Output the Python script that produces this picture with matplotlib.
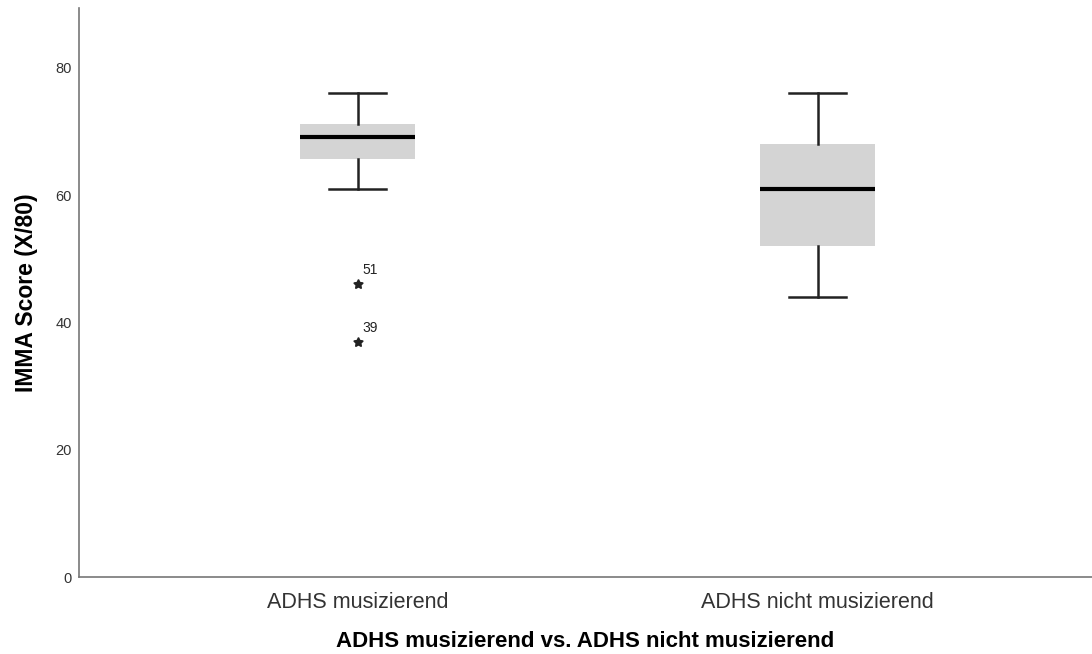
import matplotlib
matplotlib.use("Agg")
import matplotlib.pyplot as plt

plt.rcParams['font.family'] = ['Liberation Sans', 'DejaVu Sans']

# Group labels and box-plot summary statistics (IMMA score, max 80)
groups = ["ADHS musizierend", "ADHS nicht musizierend"]
whisker_low = [61, 44]
q1 = [65.6, 52]
median = [69.1, 61]
q3 = [71.1, 68]
whisker_high = [76, 76]

# Extreme values (group index, value, case id)
extreme_group = [0, 0]
extreme_value = [46, 37]
extreme_id = ["51", "39"]

stats = []
for i, g in enumerate(groups):
    stats.append(dict(label=g, whislo=whisker_low[i], q1=q1[i], med=median[i],
                      q3=q3[i], whishi=whisker_high[i], fliers=[]))

fig = plt.figure(figsize=(10.92, 6.54), dpi=100)
ax = fig.add_axes([0.0723, 0.1177, 0.9277, 0.8701])

positions = [1, 2]
ax.bxp(stats, positions=positions, widths=0.25, patch_artist=True,
       showfliers=False,
       boxprops=dict(facecolor="#d4d4d4", edgecolor="none", linewidth=0),
       medianprops=dict(color="black", linewidth=3),
       whiskerprops=dict(color="#222222", linewidth=1.8),
       capprops=dict(color="#222222", linewidth=1.8),
       capwidths=0.124)

for gi, v, lab in zip(extreme_group, extreme_value, extreme_id):
    x = positions[gi]
    ax.plot(x, v, marker=(5, 1, 0), color="#222222", markersize=7, linestyle="none")
    ax.annotate(lab, (x, v), xytext=(3, 5), textcoords="offset points",
                fontsize=10, color="#222222", ha="left", va="bottom")

ax.set_xlim(0.3935, 2.596)
ax.set_ylim(0, 89.4)
ax.set_yticks([0, 20, 40, 60, 80])
ax.set_xticks(positions)
ax.set_xticklabels(groups, fontsize=15.5, color="#333333")
ax.tick_params(axis="y", length=0, pad=5, labelsize=10.5, labelcolor="#333333")
ax.tick_params(axis="x", length=0, pad=11)

for s in ["top", "right"]:
    ax.spines[s].set_visible(False)
for s in ["left", "bottom"]:
    ax.spines[s].set_color("#777777")
    ax.spines[s].set_linewidth(1.2)

ax.set_ylabel("IMMA Score (X/80)", fontsize=16.5, fontweight="bold", labelpad=13)
ax.set_xlabel("ADHS musizierend vs. ADHS nicht musizierend", fontsize=16,
              fontweight="bold", labelpad=13)

fig.savefig("out.png", dpi=100)
